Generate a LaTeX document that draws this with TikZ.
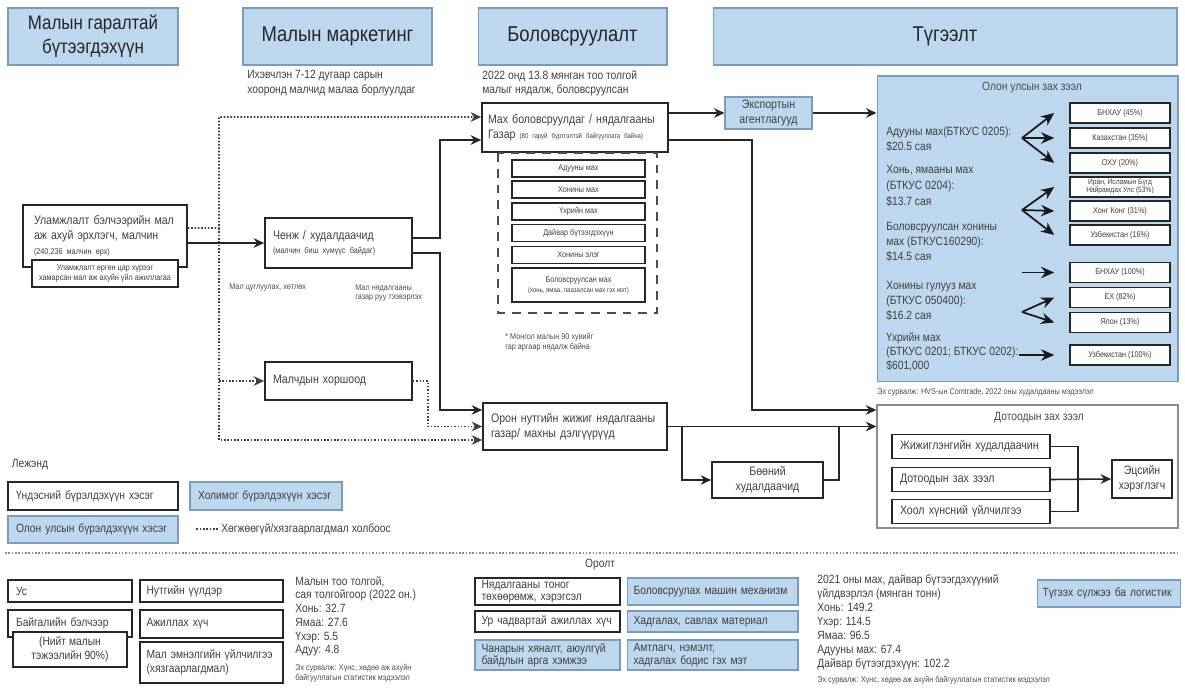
\documentclass[tikz,border=0pt]{standalone}
\usepackage{fontspec}
\setmainfont{Liberation Sans}[FakeStretch=0.86]
\usetikzlibrary{arrows.meta,calc}
\definecolor{boxblue}{RGB}{189,215,238}
\definecolor{boxedge}{RGB}{120,155,190}
\newcommand{\fhead}{\fontsize{12.2}{14.5}\selectfont}
\newcommand{\fbody}{\fontsize{7}{8.4}\selectfont}
\newcommand{\ftext}{\fontsize{6.8}{8.2}\selectfont}
\newcommand{\fsmall}{\fontsize{4.8}{5.6}\selectfont}
\newcommand{\fmini}{\fontsize{4}{5}\selectfont}
\begin{document}
\begin{tikzpicture}[x=0.02cm,y=-0.02cm,
	nat/.style={draw=black!85,line width=1pt,fill=white,inner sep=0pt,text=black!75,font=\fbody},
	mix/.style={draw=boxedge,line width=0.6pt,fill=boxblue,inner sep=0pt,text=black!75,font=\fbody},
	head/.style={mix,font=\fhead,text=black!85,align=center,minimum height=1.14cm},
	lft/.style={align=left,inner xsep=0.16cm},
	ctr/.style={align=center},
	note/.style={inner sep=0pt,align=left,text=black!75,font=\ftext},
	srcnote/.style={inner sep=0pt,align=left,text=black!70,font=\fsmall},
	item/.style={nat,ctr,font=\fsmall,line width=0.9pt,minimum width=2.66cm,minimum height=0.34cm},
	land/.style={nat,ctr,font=\fsmall,line width=0.9pt,minimum width=2cm,minimum height=0.4cm},
	flow/.style={line width=0.9pt,draw=black!85},
	weak/.style={line width=0.9pt,draw=black!75,densely dotted},
	arr/.style={-{Stealth[length=6pt,width=5.5pt]}},
	fan/.style={line width=1pt,draw=black!90,-{Stealth[length=7.5pt,width=6.5pt]}}]
	\useasboundingbox (0,0) rectangle (1185,688);
	% stage headers
		\node[head,minimum width=3.4cm,font=\fontsize{11.2}{13.5}\selectfont] (h1) at (93,36.5) {Малын гаралтай\\бүтээгдэхүүн};
		\node[head,minimum width=3.78cm] (h2) at (337.5,36.5) {Малын маркетинг};
		\node[head,minimum width=3.78cm] (h3) at (572.5,36.5) {Боловсруулалт};
		\node[head,minimum width=9.28cm] (h4) at (945,36.5) {Түгээлт};
		\node[note,anchor=north west] (n2) at (247,70) {Ихэвчлэн 7-12 дугаар сарын\\хооронд малчид малаа борлуулдаг};
		\node[note,anchor=north west] (n3) at (482,70) {2022 онд 13.8 мянган тоо толгой\\малыг нядалж, боловсруулсан};
	% herders and marketing
		\node[nat,lft,inner xsep=0.22cm,text width=2.84cm,minimum height=1.24cm] (herder) at (105,236) {Уламжлалт бэлчээрийн мал\\аж ахуй эрхлэгч, малчин\\{\fsmall(240,236 малчин өрх)}};
		\node[nat,ctr,font=\fsmall,line width=0.9pt,minimum width=2.92cm,minimum height=0.54cm] (herdscope) at (105,273.5) {Уламжлалт өргөн цар хүрээг\\хамарсан мал аж ахуйн үйл ажиллагаа};
		\node[nat,lft,text width=2.62cm,minimum height=1cm] (chenj) at (338.5,243) {Ченж / худалдаачид\\{\fsmall(малчин биш хүмүүс байдаг)}};
		\node[srcnote,anchor=west] (collect) at (229,287) {Мал цуглуулах, хөтлөх};
		\node[srcnote,anchor=west] (haul) at (355,293) {Мал нядалгааны\\газар руу тээвэрлэх};
		\node[nat,lft,text width=2.62cm,minimum height=0.76cm] (coop) at (338.5,381) {Малчдын хоршоод};
	% processing
		\node[nat,lft,inner xsep=0.12cm,text width=3.48cm,minimum height=0.98cm] (plant) at (575,127.5) {Мах боловсруулдаг / нядалгааны\\Газар {\fmini(80 гаруй бүртгэлтэй байгууллага байна)}};
		\draw[line width=1.1pt,draw=black!70,dash pattern=on 5pt off 4pt] (498,153) rectangle (657,313);
		\node[item] (p1) at (578.5,168.5) {Адууны мах};
		\node[item] (p2) at (578.5,189.5) {Хонины мах};
		\node[item] (p3) at (578.5,211.5) {Үхрийн мах};
		\node[item] (p4) at (578.5,233) {Дайвар бүтээгдэхүүн};
		\node[item] (p5) at (578.5,255) {Хонины элэг};
		\node[item,minimum height=0.68cm] (p6) at (578.5,285) {Боловсруулсан мах\\{\fmini(хонь, ямаа, лаазалсан мах гэх мэт)}};
		\node[srcnote,anchor=north west] (share) at (505,333) {* Монгол малын 90 хувийг\\гар аргаар нядалж байна};
		\node[nat,lft,text width=3.36cm,minimum height=0.94cm] (local) at (575,426.5) {Орон нутгийн жижиг нядалгааны\\газар/ махны дэлгүүрүүд};
	% distribution
		\node[mix,ctr,minimum width=1.74cm,minimum height=0.64cm] (export) at (768.5,113) {Экспортын\\агентлагууд};
		\node[mix,minimum width=6.02cm,minimum height=6.12cm] (intl) at (1027.5,229) {};
		\node[srcnote,font=\ftext] (intltitle) at (1032,88) {Олон улсын зах зээл};
		\node[land] (c1) at (1120,113) {БНХАУ (45\%)};
		\node[land] (c2) at (1120,138) {Казахстан (35\%)};
		\node[land] (c3) at (1120,163) {ОХУ (20\%)};
		\node[land,font=\fontsize{4.4}{4.6}\selectfont] (c4) at (1120,187) {Иран, Исламын Бүгд\\Найрамдах Улс (53\%)};
		\node[land] (c5) at (1120,211) {Хонг Конг (31\%)};
		\node[land] (c6) at (1120,235) {Узбекистан (16\%)};
		\node[land] (c7) at (1120,272.5) {БНХАУ (100\%)};
		\node[land] (c8) at (1120,297.5) {ЕХ (82\%)};
		\node[land] (c9) at (1120,322.5) {Япон (13\%)};
		\node[land] (c10) at (1120,355) {Узбекистан (100\%)};
		\node[note,anchor=west,font=\fontsize{6.8}{8.4}\selectfont] (t1) at (886,139) {Адууны мах(БТКУС 0205):\\\$20.5 сая};
		\node[note,anchor=west,font=\fontsize{6.8}{9}\selectfont] (t2) at (886,186) {Хонь, ямааны мах\\(БТКУС 0204):\\\$13.7 сая};
		\node[note,anchor=west,font=\fontsize{6.8}{8.6}\selectfont] (t3) at (886,242) {Боловсруулсан хонины\\мах (БТКУС160290):\\\$14.5 сая};
		\node[note,anchor=west,font=\fontsize{6.8}{8.6}\selectfont] (t4) at (886,301) {Хонины гулууз мах\\(БТКУС 050400):\\\$16.2 сая};
		\node[note,anchor=west,font=\fontsize{6.8}{8}\selectfont] (t5) at (886,352) {Үхрийн мах\\(БТКУС 0201; БТКУС 0202):\\\$601,000};
		\node[srcnote,anchor=west] (src0) at (877,392) {Эх сурвалж: HVS-ын Comtrade, 2022 оны худалдааны мэдээлэл};
		\node[nat,draw=black!45,line width=0.8pt,minimum width=6.02cm,minimum height=2.46cm] (dom) at (1027.5,466.5) {};
		\node[srcnote,font=\ftext] (domtitle) at (1039,418) {Дотоодын зах зээл};
		\node[nat,lft,text width=2.84cm,minimum height=0.48cm] (r1) at (971,446.5) {Жижиглэнгийн худалдаачин};
		\node[nat,lft,text width=2.84cm,minimum height=0.48cm] (r2) at (971,479.5) {Дотоодын зах зээл};
		\node[nat,lft,text width=2.84cm,minimum height=0.48cm] (r3) at (971,511.5) {Хоол хүнсний үйлчилгээ};
		\node[nat,ctr,minimum width=1.2cm,minimum height=0.76cm] (cons) at (1142,479) {Эцсийн\\хэрэглэгч};
		\node[nat,ctr,minimum width=2.22cm,minimum height=0.72cm] (whole) at (767.5,480) {Бөөний\\худалдаачид};
	% connectors on the left
		\coordinate (d0) at (219,228);
		\draw[weak,arr] ([yshift=0.16cm]herder.east) -- (d0) |- ([yshift=0.21cm]plant.west);
		\draw[weak,arr] (d0) |- ([yshift=-0.27cm]local.west);
		\draw[weak,arr] (d0 |- coop.west) -- (coop.west);
		\draw[flow,arr] (herder.east |- chenj.west) -- (chenj.west);
		\coordinate (d3) at (428,0);
		\draw[weak,arr] (coop.east) -| (d3 |- local.west) -- (local.west);
		\coordinate (s1) at (440,140);
		\coordinate (s2) at (440,410);
		\draw[flow,arr] ([yshift=0.1cm]chenj.east) -| (s1) -- (plant.west |- s1);
		\draw[flow,arr] ([yshift=-0.2cm]chenj.east) -| (s2) -- (local.west |- s2);
	% connectors on the right
		\draw[flow,arr] (plant.east |- export.west) -- (export.west);
		\draw[flow,arr] (export.east) -- (intl.west |- export.east);
		\coordinate (s3) at (752,410);
		\draw[flow,arr] ([yshift=-0.25cm]plant.east) -| (s3) -- (dom.west |- s3);
		\draw[flow,arr] (local.east) -- (dom.west |- local.east);
		\draw[flow,arr] ($(local.east)+(14,0)$) |- (whole.west);
		\draw[flow] (whole.east) -| ($(whole.east |- local.east)+(15,0)$);
		\coordinate (bus) at (1078,0);
		\draw[flow] (r1.east) -| (bus |- r3.east) -- (r3.east);
		\draw[flow,arr] (r2.east) -- (cons.west);
	% export fans
		\coordinate (f1) at (1022,138);
		\coordinate (f2) at (1022,210);
		\coordinate (f3) at (1022,272.5);
		\coordinate (f4) at (1022,312);
		\draw[fan] (f1) -- ([xshift=-0.3cm]c1.west);
		\draw[fan] (f1) -- ([xshift=-0.3cm]c2.west);
		\draw[fan] (f1) -- ([xshift=-0.3cm]c3.west);
		\draw[fan] (f2) -- ([xshift=-0.3cm]c4.west);
		\draw[fan] (f2) -- ([xshift=-0.3cm]c5.west);
		\draw[fan] (f2) -- ([xshift=-0.3cm]c6.west);
		\draw[fan] (f3) -- ([xshift=-0.3cm]c7.west);
		\draw[fan] (f4) -- ([xshift=-0.3cm]c8.west);
		\draw[fan] (f4) -- ([xshift=-0.3cm]c9.west);
		\draw[fan] (t5.east |- c10.west) -- ([xshift=-0.3cm]c10.west);
	% legend
		\node[note] (lgtitle) at (30,465) {Лежэнд};
		\node[nat,lft,font=\ftext,text width=3.08cm,minimum height=0.56cm] (lg1) at (93,496) {Үндэсний бүрэлдэхүүн хэсэг};
		\node[mix,lft,font=\ftext,text width=2.72cm,minimum height=0.56cm] (lg2) at (266,496) {Холимог бүрэлдэхүүн хэсэг};
		\node[mix,lft,font=\ftext,text width=3.08cm,minimum height=0.54cm] (lg3) at (93,529.5) {Олон улсын бүрэлдэхүүн хэсэг};
		\node[note,anchor=west] (lgnote) at (221,529) {Хөгжөөгүй/хязгаарлагдмал холбоос};
		\draw[weak] ([xshift=-0.06cm]lgnote.west) -- ++(-0.44cm,0);
		\draw[weak,draw=black!45] (5,553) -- (1180,553);
	% inputs
		\node[nat,lft,font=\ftext,text width=2.16cm,minimum height=0.44cm] (b1) at (70,591) {Ус};
		\node[nat,lft,font=\ftext,text width=2.16cm,minimum height=0.54cm] (b2) at (70,623.5) {Байгалийн бэлчээр};
		\node[nat,ctr,font=\ftext,minimum width=2.28cm,minimum height=0.7cm] (b3) at (70,649.5) {(Нийт малын\\тэжээлийн 90\%)};
		\node[nat,lft,font=\ftext,inner xsep=0.13cm,text width=2.6cm,minimum height=0.44cm] (b4) at (211.5,591) {Нутгийн үүлдэр};
		\node[nat,lft,font=\ftext,inner xsep=0.13cm,text width=2.6cm,minimum height=0.56cm] (b5) at (211.5,624) {Ажиллах хүч};
		\node[nat,lft,font=\ftext,inner xsep=0.13cm,text width=2.6cm,minimum height=0.82cm] (b6) at (211.5,662.5) {Мал эмнэлгийн үйлчилгээ\\(хязгаарлагдмал)};
		\node[note,anchor=north west,font=\fontsize{6.8}{7.8}\selectfont] (stock) at (295,576) {Малын тоо толгой,\\сая толгойгоор (2022 он.)\\Хонь: 32.7\\Ямаа: 27.6\\Үхэр: 5.5\\Адуу: 4.8};
		\node[srcnote,anchor=north west] (src1) at (295,664) {Эх сурвалж: Хүнс, хөдөө аж ахуйн\\байгууллагын статистик мэдээлэл};
		\node[note] (inputs) at (600,565) {Оролт};
		\node[nat,lft,font=\fontsize{6.8}{6.6}\selectfont,inner xsep=0.13cm,text width=2.64cm,minimum height=0.54cm] (i1) at (547.5,591.5) {Нядалгааны тоног\\төхөөрөмж, хэрэгсэл};
		\node[nat,lft,font=\ftext,inner xsep=0.13cm,text width=2.64cm,minimum height=0.42cm] (i2) at (547.5,621.5) {Ур чадвартай ажиллах хүч};
		\node[mix,lft,font=\fontsize{6.8}{7}\selectfont,inner xsep=0.13cm,text width=2.64cm,minimum height=0.6cm] (i3) at (547.5,655) {Чанарын хяналт, аюулгүй\\байдлын арга хэмжээ};
		\node[mix,lft,font=\ftext,inner xsep=0.13cm,text width=3.16cm,minimum height=0.54cm] (i4) at (712.5,591.5) {Боловсруулах машин механизм};
		\node[mix,lft,font=\ftext,inner xsep=0.13cm,text width=3.16cm,minimum height=0.42cm] (i5) at (712.5,621.5) {Хадгалах, савлах материал};
		\node[mix,lft,font=\fontsize{6.8}{7}\selectfont,inner xsep=0.13cm,text width=3.16cm,minimum height=0.6cm] (i6) at (712.5,655) {Амтлагч, нэмэлт,\\хадгалах бодис гэх мэт};
		\node[note,anchor=north west,font=\fontsize{6.8}{8}\selectfont] (output) at (817,574) {2021 оны  мах, дайвар бүтээгдэхүүний\\үйлдвэрлэл (мянган тонн)\\Хонь: 149.2\\Үхэр: 114.5\\Ямаа: 96.5\\Адууны мах: 67.4\\Дайвар бүтээгдэхүүн: 102.2};
		\node[srcnote,anchor=north west] (src2) at (817,676) {Эх сурвалж: Хүнс, хөдөө аж ахуйн байгууллагын статистик мэдээлэл};
		\node[mix,lft,font=\ftext,inner xsep=0.1cm,text width=2.66cm,minimum height=0.54cm] (logi) at (1109,593.5) {Түгээх сүлжээ ба логистик};
\end{tikzpicture}
\end{document}
